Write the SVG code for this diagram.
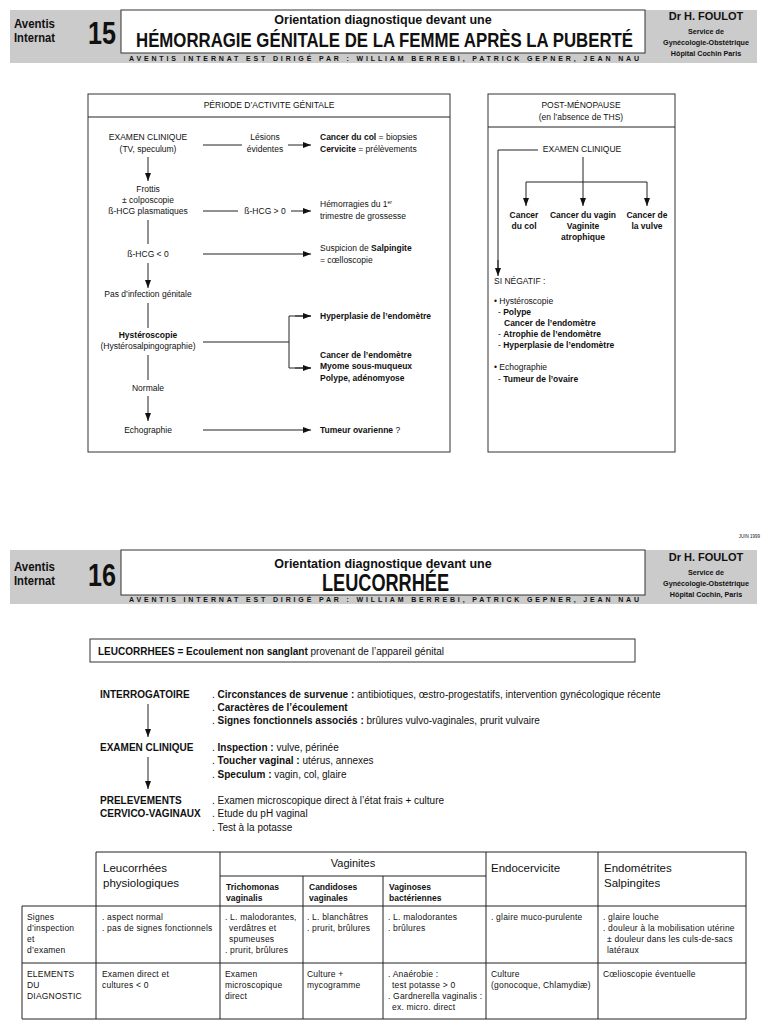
<svg xmlns="http://www.w3.org/2000/svg" width="768" height="1024" viewBox="0 0 768 1024">
<style>
text{font-family:"Liberation Sans",Arial,Helvetica,sans-serif;fill:#111}
.b{font-weight:bold}
.s{font-size:8.5px}
.m{font-size:10px}
.c{text-anchor:middle}
.t{font-size:8.5px;letter-spacing:0.2px}
.h{font-size:7.2px;font-weight:bold;text-anchor:middle}
.ln{stroke:#222;stroke-width:1;fill:none}
.ar{stroke:#222;stroke-width:1;fill:none;marker-end:url(#ah)}
.box{fill:#fff;stroke:#333;stroke-width:1}
.band{fill:#cbcbcb}
</style>
<defs>
<marker id="ah" markerUnits="userSpaceOnUse" markerWidth="9" markerHeight="7" refX="8" refY="3" orient="auto">
<path d="M0,0 L8,3 L0,6 z" fill="#111"/>
</marker>
</defs>
<rect width="768" height="1024" fill="#fff"/>

<!-- Header 15 -->
<g id="header15">
<rect class="band" x="10" y="10" width="747" height="53"/>
<rect x="121" y="10" width="524" height="43" fill="#fff" stroke="#333" stroke-width="1"/>
<text class="b" x="14" y="28" font-size="13" textLength="41" lengthAdjust="spacingAndGlyphs">Aventis</text>
<text class="b" x="14" y="42" font-size="13" textLength="41" lengthAdjust="spacingAndGlyphs">Internat</text>
<text class="b" x="88" y="44" font-size="31" textLength="28" lengthAdjust="spacingAndGlyphs">15</text>
<text class="b c" x="383" y="24" font-size="12.5">Orientation diagnostique devant une</text>
<text class="b" x="136" y="47" font-size="21" textLength="497" lengthAdjust="spacingAndGlyphs">HÉMORRAGIE GÉNITALE DE LA FEMME APRÈS LA PUBERTÉ</text>
<text class="b" x="129" y="61" font-size="7" textLength="510" lengthAdjust="spacing">AVENTIS INTERNAT EST DIRIGÉ PAR : WILLIAM BERREBI,   PATRICK GEPNER,   JEAN NAU</text>
<text class="b c" x="706" y="20" font-size="11">Dr H. FOULOT</text>
<text class="h" x="706" y="34">Service de</text>
<text class="h" x="706" y="45">Gynécologie-Obstétrique</text>
<text class="h" x="706" y="56">Hôpital Cochin Paris</text>
</g>

<!-- Left box -->
<g id="periode-activite">
<rect class="box" x="88" y="94" width="362" height="358"/>
<line class="ln" x1="88" y1="117" x2="450" y2="117"/>
<text class="s c" x="269" y="108">PÉRIODE D’ACTIVITE GÉNITALE</text>
</g>
<g id="n-examen"><text class="s c" x="148" y="140">EXAMEN CLINIQUE</text><text class="s c" x="148" y="152">(TV, speculum)</text></g>
<g id="n-lesions"><text class="s c" x="265" y="140">Lésions</text><text class="s c" x="265" y="152">évidentes</text></g>
<g id="n-cancercol"><text class="s" x="320" y="140"><tspan class="b">Cancer du col</tspan> = biopsies</text><text class="s" x="320" y="152"><tspan class="b">Cervicite</tspan> = prélèvements</text></g>
<g id="n-frottis"><text class="s c" x="148" y="192">Frottis</text><text class="s c" x="148" y="203">± colposcopie</text><text class="s c" x="148" y="214">ß-HCG plasmatiques</text></g>
<g id="n-hcgpos"><text class="s c" x="265" y="214">ß-HCG &gt; 0</text></g>
<g id="n-hemo"><text class="s" x="320" y="207">Hémorragies du 1<tspan font-size="5" dy="-3">er</tspan></text><text class="s" x="320" y="219">trimestre de grossesse</text></g>
<g id="n-hcgneg"><text class="s c" x="148" y="257">ß-HCG &lt; 0</text></g>
<g id="n-salp"><text class="s" x="320" y="251">Suspicion de <tspan class="b">Salpingite</tspan></text><text class="s" x="320" y="263">= cœlloscopie</text></g>
<g id="n-pasinf"><text class="s c" x="148" y="297">Pas d’infection génitale</text></g>
<g id="n-hystero"><text class="s c b" x="148" y="338">Hystéroscopie</text><text class="s c" x="148" y="349">(Hystérosalpingographie)</text></g>
<g id="n-hyperplasie"><text class="s b" x="320" y="319">Hyperplasie de l’endomètre</text></g>
<g id="n-cancerendo"><text class="s b" x="320" y="358">Cancer de l’endomètre</text><text class="s b" x="320" y="369">Myome sous-muqueux</text><text class="s b" x="320" y="381">Polype, adénomyose</text></g>
<g id="n-normale"><text class="s c" x="148" y="391">Normale</text></g>
<g id="n-echo"><text class="s c" x="148" y="433">Echographie</text></g>
<g id="n-tumeur"><text class="s" x="320" y="433"><tspan class="b">Tumeur ovarienne</tspan> ?</text></g>

<!-- Right box -->
<g id="post-menopause">
<rect class="box" x="488" y="94" width="187" height="358"/>
<line class="ln" x1="488" y1="127" x2="675" y2="127"/>
<text class="s c" x="581" y="108">POST-MÉNOPAUSE</text>
<text class="s c" x="581" y="120">(en l’absence de THS)</text>
</g>
<g id="r-examen"><text class="s c" x="582" y="152">EXAMEN CLINIQUE</text></g>
<g id="r-col"><text class="s b c" x="524" y="218">Cancer</text><text class="s b c" x="524" y="229">du col</text></g>
<g id="r-vagin"><text class="s b c" x="583" y="218">Cancer du vagin</text><text class="s b c" x="583" y="229">Vaginite</text><text class="s b c" x="583" y="240">atrophique</text></g>
<g id="r-vulve"><text class="s b c" x="647" y="218">Cancer de</text><text class="s b c" x="647" y="229">la vulve</text></g>
<g id="r-negatif">
<text class="s" x="494" y="284">SI NÉGATIF :</text>
<text class="s" x="494" y="304">•  Hystéroscopie</text>
<text class="s" x="498" y="315">- <tspan class="b">Polype</tspan></text>
<text class="s b" x="504" y="326">Cancer de l’endomètre</text>
<text class="s" x="498" y="337">- <tspan class="b">Atrophie de l’endomètre</tspan></text>
<text class="s" x="498" y="348">- <tspan class="b">Hyperplasie de l’endomètre</tspan></text>
<text class="s" x="494" y="370">•  Echographie</text>
<text class="s" x="498" y="382">- <tspan class="b">Tumeur de l’ovaire</tspan></text>
</g>

<g id="connectors">
<line class="ar" x1="148" y1="157" x2="148" y2="181"/>
<line class="ln" x1="203" y1="145" x2="242" y2="145"/>
<line class="ar" x1="288" y1="145" x2="311" y2="145"/>
<line class="ln" x1="203" y1="211" x2="238" y2="211"/>
<line class="ar" x1="291" y1="211" x2="311" y2="211"/>
<line class="ln" x1="148" y1="220" x2="148" y2="244"/>
<line class="ar" x1="203" y1="254" x2="311" y2="254"/>
<line class="ar" x1="148" y1="263" x2="148" y2="288"/>
<line class="ln" x1="148" y1="303" x2="148" y2="328"/>
<line class="ln" x1="203" y1="342" x2="289" y2="342"/>
<polyline class="ln" points="311,316 289,316 289,368 311,368"/>
<line class="ar" x1="295" y1="316" x2="311" y2="316"/>
<line class="ar" x1="295" y1="368" x2="311" y2="368"/>
<line class="ln" x1="148" y1="355" x2="148" y2="380"/>
<line class="ar" x1="148" y1="396" x2="148" y2="421"/>
<line class="ar" x1="203" y1="430" x2="311" y2="430"/>
<polyline class="ln" points="538,150 498,150 498,268"/>
<line class="ar" x1="498" y1="260" x2="498" y2="276"/>
<line class="ln" x1="583" y1="157" x2="583" y2="182"/>
<line class="ln" x1="526" y1="182" x2="647" y2="182"/>
<line class="ar" x1="526" y1="182" x2="526" y2="206"/>
<line class="ar" x1="583" y1="182" x2="583" y2="206"/>
<line class="ar" x1="647" y1="182" x2="647" y2="206"/>
<line class="ar" x1="148" y1="704" x2="148" y2="737"/>
<line class="ar" x1="148" y1="757" x2="148" y2="789"/>
</g>

<text x="760" y="538" font-size="4.5" text-anchor="end" font-family="Liberation Serif">JUIN 1999</text>

<!-- Header 16 -->
<g id="header16">
<rect class="band" x="10" y="550" width="747" height="54"/>
<rect x="121" y="550" width="524" height="45" fill="#fff" stroke="#333" stroke-width="1"/>
<text class="b" x="14" y="571" font-size="13" textLength="41" lengthAdjust="spacingAndGlyphs">Aventis</text>
<text class="b" x="14" y="585" font-size="13" textLength="41" lengthAdjust="spacingAndGlyphs">Internat</text>
<text class="b" x="88" y="586" font-size="31" textLength="28" lengthAdjust="spacingAndGlyphs">16</text>
<text class="b c" x="383" y="568" font-size="12.5">Orientation diagnostique devant une</text>
<text class="b" x="322" y="591" font-size="24" textLength="127" lengthAdjust="spacingAndGlyphs">LEUCORRHÉE</text>
<text class="b" x="129" y="602" font-size="7" textLength="510" lengthAdjust="spacing">AVENTIS INTERNAT EST DIRIGÉ PAR : WILLIAM BERREBI,   PATRICK GEPNER,   JEAN NAU</text>
<text class="b c" x="706" y="561" font-size="11">Dr H. FOULOT</text>
<text class="h" x="706" y="575">Service de</text>
<text class="h" x="706" y="586">Gynécologie-Obstétrique</text>
<text class="h" x="706" y="597">Hôpital Cochin, Paris</text>
</g>

<g id="definition">
<rect class="box" x="90" y="639" width="545" height="23"/>
<text class="m" x="98" y="655"><tspan class="b">LEUCORRHEES = Ecoulement non sanglant</tspan> provenant de l’appareil génital</text>
</g>

<g id="interrogatoire">
<text class="m b" x="100" y="698">INTERROGATOIRE</text>
<text class="m" x="212" y="698">. <tspan class="b">Circonstances de survenue :</tspan> antibiotiques, œstro-progestatifs, intervention gynécologique récente</text>
<text class="m" x="212" y="711">. <tspan class="b">Caractères de l’écoulement</tspan></text>
<text class="m" x="212" y="724">. <tspan class="b">Signes fonctionnels associés :</tspan> brûlures vulvo-vaginales, prurit vulvaire</text>
</g>
<g id="examen-clinique">
<text class="m b" x="100" y="751">EXAMEN CLINIQUE</text>
<text class="m" x="212" y="751">. <tspan class="b">Inspection :</tspan> vulve, périnée</text>
<text class="m" x="212" y="764">. <tspan class="b">Toucher vaginal :</tspan> utérus, annexes</text>
<text class="m" x="212" y="778">. <tspan class="b">Speculum :</tspan> vagin, col, glaire</text>
</g>
<g id="prelevements">
<text class="m b" x="100" y="804">PRELEVEMENTS</text>
<text class="m b" x="100" y="817">CERVICO-VAGINAUX</text>
<text class="m" x="212" y="804">. Examen microscopique direct à l’état frais + culture</text>
<text class="m" x="212" y="817">. Etude du pH vaginal</text>
<text class="m" x="212" y="831">. Test à la potasse</text>
</g>

<!-- Table -->
<g id="table" class="ln">
<polyline points="96,906 96,852 746,852 746,1019 22,1019 22,906 746,906"/>
<line x1="22" y1="963" x2="746" y2="963"/>
<line x1="220" y1="852" x2="220" y2="1019"/>
<line x1="486" y1="852" x2="486" y2="1019"/>
<line x1="598" y1="852" x2="598" y2="1019"/>
<line x1="96" y1="906" x2="96" y2="1019"/>
<line x1="220" y1="876" x2="486" y2="876"/>
<line x1="303" y1="876" x2="303" y2="1019"/>
<line x1="383" y1="876" x2="383" y2="1019"/>
</g>
<g id="table-text">
<text x="103" y="872" font-size="11.5">Leucorrhées</text>
<text x="103" y="887" font-size="11.5">physiologiques</text>
<text class="c" x="353" y="867" font-size="11">Vaginites</text>
<text x="491" y="872" font-size="11.5">Endocervicite</text>
<text x="604" y="872" font-size="11.5">Endométrites</text>
<text x="604" y="887" font-size="11.5">Salpingites</text>
<text class="b" x="226" y="890" font-size="8.5">Trichomonas</text>
<text class="b" x="226" y="901" font-size="8.5">vaginalis</text>
<text class="b" x="309" y="890" font-size="8.5">Candidoses</text>
<text class="b" x="309" y="901" font-size="8.5">vaginales</text>
<text class="b" x="389" y="890" font-size="8.5">Vaginoses</text>
<text class="b" x="389" y="901" font-size="8.5">bactériennes</text>

<text class="t" x="27" y="920">Signes</text>
<text class="t" x="27" y="931">d’inspection</text>
<text class="t" x="27" y="942">et</text>
<text class="t" x="27" y="953">d’examen</text>
<text class="t" x="102" y="920">. aspect normal</text>
<text class="t" x="102" y="931">. pas de signes fonctionnels</text>
<text class="t" x="225" y="920">. L. malodorantes,</text>
<text class="t" x="229" y="931">verdâtres et</text>
<text class="t" x="229" y="942">spumeuses</text>
<text class="t" x="225" y="953">. prurit, brûlures</text>
<text class="t" x="307" y="920">. L. blanchâtres</text>
<text class="t" x="307" y="931">. prurit, brûlures</text>
<text class="t" x="388" y="920">. L. malodorantes</text>
<text class="t" x="388" y="931">. brûlures</text>
<text class="t" x="491" y="920">. glaire muco-purulente</text>
<text class="t" x="603" y="920">. glaire louche</text>
<text class="t" x="603" y="931">. douleur à la mobilisation utérine</text>
<text class="t" x="607" y="942">± douleur dans les culs-de-sacs</text>
<text class="t" x="607" y="953">latéraux</text>

<text class="t" x="27" y="977">ELEMENTS</text>
<text class="t" x="27" y="988">DU</text>
<text class="t" x="27" y="999">DIAGNOSTIC</text>
<text class="t" x="102" y="977">Examen direct et</text>
<text class="t" x="102" y="988">cultures &lt; 0</text>
<text class="t" x="225" y="977">Examen</text>
<text class="t" x="225" y="988">microscopique</text>
<text class="t" x="225" y="999">direct</text>
<text class="t" x="307" y="977">Culture +</text>
<text class="t" x="307" y="988">mycogramme</text>
<text class="t" x="388" y="977">. Anaérobie :</text>
<text class="t" x="392" y="988">test potasse &gt; 0</text>
<text class="t" x="388" y="999">. Gardnerella vaginalis :</text>
<text class="t" x="392" y="1010">ex. micro. direct</text>
<text class="t" x="491" y="977">Culture</text>
<text class="t" x="491" y="988">(gonocoque, Chlamydiæ)</text>
<text class="t" x="603" y="977">Cœlioscopie éventuelle</text>
</g>
</svg>
